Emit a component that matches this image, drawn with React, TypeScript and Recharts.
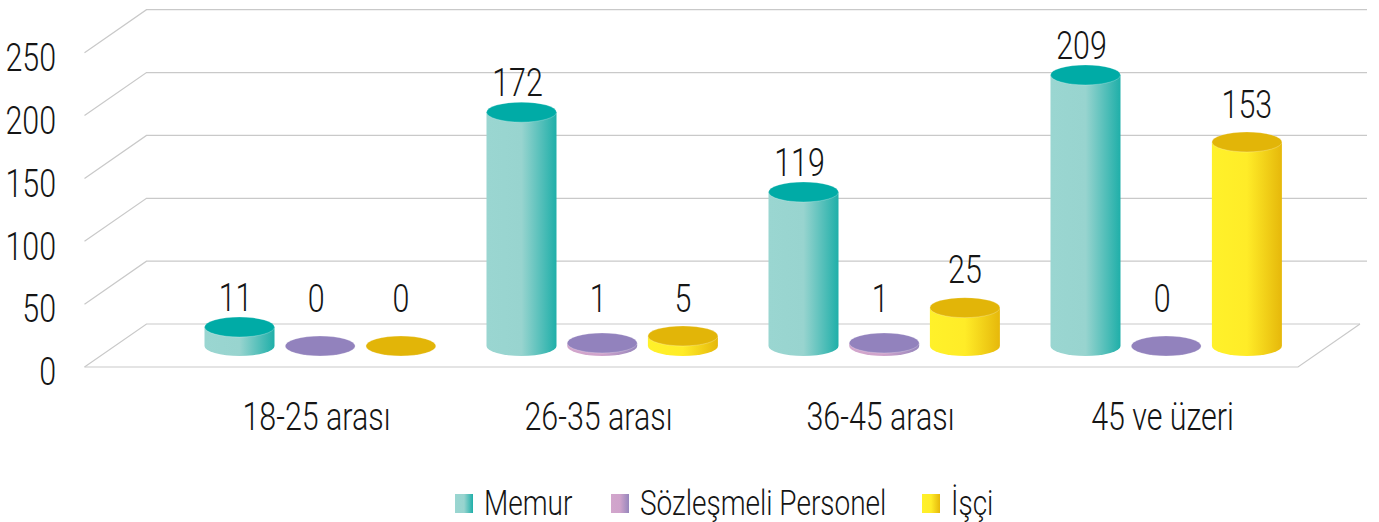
import { Bar, BarChart, CartesianGrid, LabelList, Legend, XAxis, YAxis } from 'recharts'

const FONT = 'Roboto, "Liberation Sans", sans-serif'
const TEXT = '#151515'
const GRID = '#c9c9c9'
const NARROW = 0.8

const categories = ['18-25 arası', '26-35 arası', '36-45 arası', '45 ve üzeri']
const yTicks = [0, 50, 100, 150, 200, 250]

// the printed numbers
const memur = [11, 172, 119, 209]
const sozlesmeli = [0, 1, 1, 0]
const isci = [0, 5, 25, 153]

// bar heights as they are drawn in the picture, they do not quite follow the labels
const memurDrawn = [15.1, 186, 122.5, 215.6]
const sozlesmeliDrawn = [0, 2.4, 2.4, 0]
const isciDrawn = [0, 8, 30.5, 162.3]

const chartData = categories.map((name, i) => ({
  name,
  memur: memurDrawn[i],
  sozlesmeli: sozlesmeliDrawn[i],
  isci: isciDrawn[i],
  memurLabel: memur[i],
  sozlesmeliLabel: sozlesmeli[i],
  isciLabel: isci[i],
}))

const legendItems = [
  { name: 'Memur', fill: 'url(#memurBody)' },
  { name: 'Sözleşmeli Personel', fill: 'url(#sozBody)' },
  { name: 'İşçi', fill: 'url(#isciBody)' },
]
const legendSwatchX = [0, 156, 467]

// fake 3d floor
const FRONT_LEFT = 84.5
const FRONT_RIGHT = 1298
const DEPTH_X = 62
const DEPTH_Y = 43
const BACK_RIGHT = 1367
const FLOOR_Y = 367
const BAR_BASE_LIFT = 21
const RY = 10

function NarrowText({ x, y, anchor = 'middle', size = 38, children }: any) {
  return (
    <text
      transform={`translate(${x} ${y + 1.5}) scale(${NARROW} 1)`}
      textAnchor={anchor}
      dominantBaseline="central"
      fontFamily={FONT}
      fontWeight={300}
      fontSize={size}
      fill={TEXT}
    >
      {children}
    </text>
  )
}

function GridLevel(props: any) {
  const y = props.y1
  const isFloor = Math.abs(y - FLOOR_Y) < 1
  const backY = y - DEPTH_Y
  const backX = FRONT_LEFT + DEPTH_X
  return (
    <g stroke={GRID} strokeWidth={1.2} fill="none">
      <path d={`M${FRONT_LEFT} ${y}L${backX} ${backY}L${isFloor ? FRONT_RIGHT + DEPTH_X : BACK_RIGHT} ${backY}`} />
      {isFloor && <path d={`M${FRONT_LEFT} ${y}L${FRONT_RIGHT} ${y}L${FRONT_RIGHT + DEPTH_X} ${backY}`} />}
    </g>
  )
}

function cylinder(body: string, top: string) {
  return function Cylinder(props: any) {
    const { x, y, width, height } = props
    const cx = x + width / 2
    const rx = width / 2
    const topY = y - BAR_BASE_LIFT
    const baseY = y + height - BAR_BASE_LIFT
    return (
      <g>
        {height > 0 && (
          <path
            d={`M${x} ${topY}L${x} ${baseY}A${rx} ${RY} 0 0 0 ${x + width} ${baseY}L${x + width} ${topY}Z`}
            fill={body}
          />
        )}
        <ellipse cx={cx} cy={topY} rx={rx} ry={RY} fill={top} stroke="#ffffff" strokeOpacity={0.35} strokeWidth={0.7} />
      </g>
    )
  }
}

function valueLabel(dx: number, lift: number, fixedY?: number) {
  return function ValueLabel(props: any) {
    const { x, y, width, value } = props
    const topY = y - BAR_BASE_LIFT - RY
    const labelY = Math.min(topY - lift, 297.5)
    return (
      <NarrowText x={x + width / 2 + dx} y={fixedY ?? labelY}>
        {value}
      </NarrowText>
    )
  }
}

function XTick({ x, y, payload }: any) {
  return (
    <NarrowText x={x - 4} y={y}>
      {payload.value}
    </NarrowText>
  )
}

function YTick({ x, y, payload }: any) {
  return (
    <NarrowText x={x} y={y + 3.5} anchor="end">
      {payload.value}
    </NarrowText>
  )
}

function LegendRow() {
  return (
    <svg width={560} height={39} style={{ display: 'block' }}>
      {legendItems.map((it, i) => (
        <g key={it.name}>
          <rect x={legendSwatchX[i]} y={11} width={18} height={19} fill={it.fill} />
          <NarrowText x={legendSwatchX[i] + 29} y={19} anchor="start" size={35}>
            {it.name}
          </NarrowText>
        </g>
      ))}
    </svg>
  )
}

export default function App() {
  return (
    <div style={{ position: 'fixed', left: 0, top: 0, width: 1379, height: 522, background: '#fff' }}>
      <BarChart
        width={1379}
        height={522}
        data={chartData}
        margin={{ top: 52.7, right: 71.5, bottom: 0, left: 9.5 }}
        barCategoryGap={25.65}
        barGap={10.7}
        barSize={70}
      >
        <defs>
          <linearGradient id="memurBody" x1="0" y1="0" x2="1" y2="0">
            <stop offset="0" stopColor="#9AD6D1" />
            <stop offset="0.5" stopColor="#98D4CF" />
            <stop offset="1" stopColor="#1FAFA9" />
          </linearGradient>
          <linearGradient id="sozBody" x1="0" y1="0" x2="1" y2="0">
            <stop offset="0" stopColor="#D2A6CC" />
            <stop offset="0.5" stopColor="#CFA3CB" />
            <stop offset="1" stopColor="#9686BC" />
          </linearGradient>
          <linearGradient id="isciBody" x1="0" y1="0" x2="1" y2="0">
            <stop offset="0" stopColor="#FFF12A" />
            <stop offset="0.5" stopColor="#FFEC28" />
            <stop offset="1" stopColor="#E6B80B" />
          </linearGradient>
        </defs>
        <CartesianGrid vertical={false} horizontal={GridLevel as any} />
        <XAxis
          dataKey="name"
          height={155}
          axisLine={false}
          tickLine={false}
          tickSize={0}
          tickMargin={48}
          interval={0}
          tick={<XTick />}
        />
        <YAxis
          type="number"
          domain={[0, 250]}
          ticks={yTicks}
          width={170}
          axisLine={false}
          tickLine={false}
          tickSize={0}
          tickMargin={123.5}
          interval={0}
          tick={<YTick />}
        />
        <Bar dataKey="memur" name="Memur" fill="url(#memurBody)" shape={cylinder('url(#memurBody)', '#00ABA6')} isAnimationActive={false}>
          <LabelList dataKey="memurLabel" content={valueLabel(-4, 21) as any} />
        </Bar>
        <Bar dataKey="sozlesmeli" name="Sözleşmeli Personel" fill="url(#sozBody)" shape={cylinder('url(#sozBody)', '#9282BD')} isAnimationActive={false}>
          <LabelList dataKey="sozlesmeliLabel" content={valueLabel(-4, 0, 297.5) as any} />
        </Bar>
        <Bar dataKey="isci" name="İşçi" fill="url(#isciBody)" shape={cylinder('url(#isciBody)', '#E2B508')} isAnimationActive={false}>
          <LabelList dataKey="isciLabel" content={valueLabel(0, 29) as any} />
        </Bar>
        <Legend
          layout="horizontal"
          verticalAlign="middle"
          align="center"
          content={<LegendRow />}
          wrapperStyle={{ position: 'absolute', left: 455, top: 483, width: 'auto', height: 'auto' }}
        />
      </BarChart>
    </div>
  )
}
